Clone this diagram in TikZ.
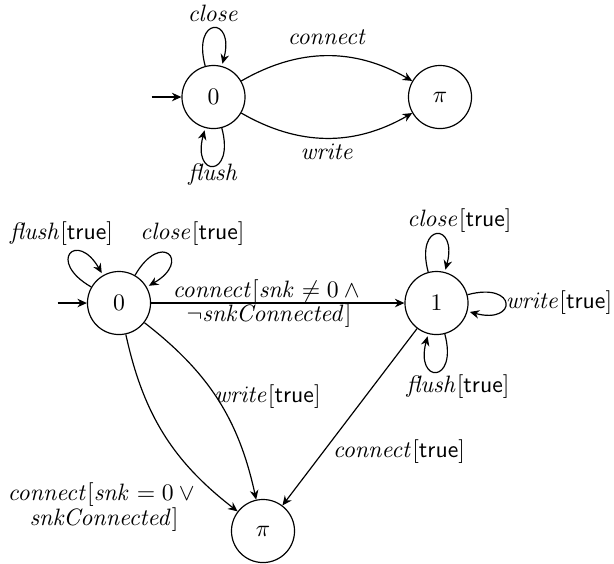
\documentclass[tikz,border=0pt]{standalone}
\usetikzlibrary{arrows.meta}
\begin{document}
\begin{tikzpicture}[x=0.4219pt,y=-0.4219pt,
  >={Stealth[length=4pt,width=3.6pt]},
  state/.style={circle,draw,line width=0.5pt,minimum size=26.6pt,inner sep=0pt},
  tr/.style={->,line width=0.5pt},
  lbl/.style={inner sep=0pt,align=center}]
\useasboundingbox (0,0) rectangle (614,563);
% top automaton
\node[state] (t0) at (213.5,97) {$0$};
\node[state] (tp) at (440,97) {$\pi$};
\coordinate (ts) at (151.5,97);
\draw[tr] (ts) -- (t0);
\path[tr] (t0) edge[loop above] () edge[loop below] ()
  edge[bend left=30] (tp) edge[bend right=30] (tp);
\node[lbl] (lt1) at (213.5,13) {$\mathit{close}$};
\node[lbl] (lt2) at (213.5,175) {$\mathit{flush}$};
\node[lbl] (lt3) at (327.5,37) {$\mathit{connect}$};
\node[lbl] (lt4) at (327.5,152) {$\mathit{write}$};
% bottom automaton
\node[state] (b0) at (119,303) {$0$};
\node[state] (b1) at (436.5,303) {$1$};
\node[state] (bp) at (263,531) {$\pi$};
\coordinate (bs) at (57.5,303);
\draw[tr] (bs) -- (b0);
\path[tr] (b0) edge[out=150,in=120,loop] () edge[out=60,in=30,loop] ()
  edge (b1) edge[bend left=20] (bp) edge[bend right=20] (bp);
\path[tr] (b1) edge[loop above] () edge[loop right] () edge[loop below] ()
  edge (bp);
\node[lbl] (lb1) at (61.5,234) {$\mathit{flush}[\textsf{true}]$};
\node[lbl] (lb2) at (192.5,234) {$\mathit{close}[\textsf{true}]$};
\node[lbl] (lb3) at (269,303.5) {$\mathit{connect}[\mathit{snk}\neq 0\land{}$\\[-1.5pt]$\neg\mathit{snkConnected}]$};
\node[lbl] (lb4) at (459.5,221) {$\mathit{close}[\textsf{true}]$};
\node[lbl] (lb5) at (559,303) {$\mathit{write}[\textsf{true}]$};
\node[lbl] (lb6) at (458,387) {$\mathit{flush}[\textsf{true}]$};
\node[lbl] (lb7) at (267.5,397) {$\mathit{write}[\textsf{true}]$};
\node[lbl] (lb8) at (399,452) {$\mathit{connect}[\textsf{true}]$};
\node[lbl] (lb9) at (104,507) {$\mathit{connect}[\mathit{snk}=0\lor{}$\\[-1.5pt]$\mathit{snkConnected}]$};
\end{tikzpicture}
\end{document}
